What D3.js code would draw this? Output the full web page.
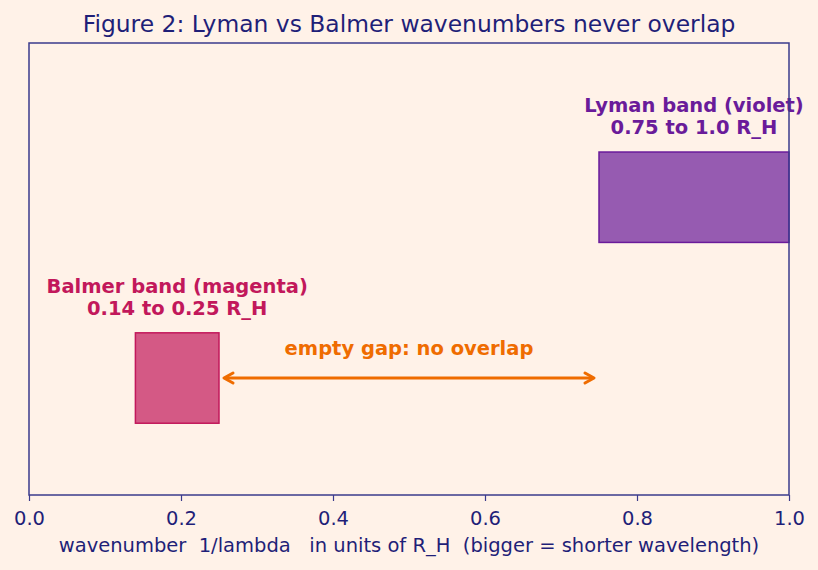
<!DOCTYPE html>
<html>
<head>
<meta charset="utf-8">
<script src="https://cdn.jsdelivr.net/npm/d3@7"></script>
<style>
  body { margin: 0; background: #fff2e8; }
  svg { display: block; font-family: "DejaVu Sans", sans-serif; }
</style>
</head>
<body>
<div id="chart"></div>
<script>
const width = 818,
  height = 570,
  margin = { top: 43, right: 29, bottom: 75, left: 29 },
  bg = "#fff2e8",
  ink = "#1f1f78",
  spine = "#3b3b8c",
  fontSize = 19.5;

// bands
const bandNames = ["Balmer", "Lyman"];
const bandStart = [0.14, 0.75];
const bandEnd = [0.25, 1.0];
const bandRow = [1, 2];
const bandColors = ["#c2185b", "#6a1b9a"];
const bandLabels = [
  ["Balmer band (magenta)", "0.14 to 0.25 R_H"],
  ["Lyman band (violet)", "0.75 to 1.0 R_H"],
];
const xTicks = [0, 0.2, 0.4, 0.6, 0.8, 1.0];
const gap = { from: 0.25, to: 0.75, row: 1, label: "empty gap: no overlap", labelRow: 1.16 };
const barHeight = 0.5;

const svg = d3
  .select("#chart")
  .append("svg")
  .attr("width", width)
  .attr("height", height);

svg.append("rect").attr("width", width).attr("height", height).attr("fill", bg);

const x = d3.scaleLinear().domain([0, 1]).range([margin.left, width - margin.right]);
const y = d3.scaleLinear().domain([0.353, 2.853]).range([height - margin.bottom, margin.top]);

const bands = bandNames.map((n, i) => ({
  name: n,
  start: bandStart[i],
  end: bandEnd[i],
  row: bandRow[i],
  color: bandColors[i],
  label: bandLabels[i],
}));

// bars
svg
  .append("g")
  .selectAll("rect")
  .data(bands)
  .join("rect")
  .attr("x", (d) => x(d.start))
  .attr("y", (d) => y(d.row + barHeight / 2))
  .attr("width", (d) => x(d.end) - x(d.start))
  .attr("height", (d) => y(d.row - barHeight / 2) - y(d.row + barHeight / 2))
  .attr("fill", (d) => d.color)
  .attr("fill-opacity", 0.7)
  .attr("stroke", (d) => d.color)
  .attr("stroke-width", 1.5);

// band labels
const lbl = svg
  .append("g")
  .selectAll("text")
  .data(bands)
  .join("text")
  .attr("text-anchor", "middle")
  .attr("font-size", fontSize)
  .attr("font-weight", "bold")
  .attr("fill", (d) => d.color)
  .attr("x", (d) => x((d.start + d.end) / 2))
  .attr("y", (d) => y(d.row + barHeight / 2) - 40);

lbl
  .selectAll("tspan")
  .data((d) => d.label.map((t) => ({ t, x: x((d.start + d.end) / 2) })))
  .join("tspan")
  .attr("x", (d) => d.x)
  .attr("dy", (d, i) => (i === 0 ? 0 : 22))
  .text((d) => d.t);

// gap arrow
const arrowColor = "#ef6c00";
const ay = y(gap.row);
const x0 = x(gap.from) + 5,
  x1 = x(gap.to) - 5;
const ag = svg.append("g").attr("stroke", arrowColor).attr("fill", "none").attr("stroke-width", 3);
ag.append("line").attr("x1", x0 + 1).attr("x2", x1 - 1).attr("y1", ay).attr("y2", ay);
ag.append("path")
  .attr("stroke-linejoin", "round")
  .attr("stroke-linecap", "round")
  .attr("d", `M${x0 + 9},${ay - 5}L${x0},${ay}L${x0 + 9},${ay + 5}`);
ag.append("path")
  .attr("stroke-linejoin", "round")
  .attr("stroke-linecap", "round")
  .attr("d", `M${x1 - 9},${ay - 5}L${x1},${ay}L${x1 - 9},${ay + 5}`);

svg
  .append("text")
  .attr("x", x((gap.from + gap.to) / 2))
  .attr("y", y(gap.labelRow) + 6)
  .attr("text-anchor", "middle")
  .attr("font-size", fontSize)
  .attr("font-weight", "bold")
  .attr("fill", arrowColor)
  .text(gap.label);

// frame
svg
  .append("rect")
  .attr("x", margin.left)
  .attr("y", margin.top)
  .attr("width", width - margin.left - margin.right)
  .attr("height", height - margin.top - margin.bottom)
  .attr("fill", "none")
  .attr("stroke", spine)
  .attr("stroke-width", 1.5);

// x axis
const xAxis = svg
  .append("g")
  .attr("transform", `translate(0,${height - margin.bottom})`)
  .call(d3.axisBottom(x).tickValues(xTicks).tickFormat(d3.format(".1f")).tickSizeOuter(0).tickSize(6));
xAxis.select(".domain").remove();
xAxis.selectAll(".tick line").attr("stroke", spine).attr("stroke-width", 1.2);
xAxis
  .selectAll(".tick text")
  .attr("fill", ink)
  .attr("font-size", fontSize)
  .attr("font-family", "DejaVu Sans, sans-serif")
  .attr("y", 30)
  .attr("dy", 0);

svg
  .append("text")
  .attr("x", x(0.5))
  .attr("y", 552)
  .attr("text-anchor", "middle")
  .attr("font-size", fontSize)
  .attr("fill", ink)
  .attr("xml:space", "preserve")
  .style("white-space", "pre")
  .text("wavenumber  1/lambda   in units of R_H  (bigger = shorter wavelength)");

// title
svg
  .append("text")
  .attr("x", width / 2)
  .attr("y", 32)
  .attr("text-anchor", "middle")
  .attr("font-size", 23.4)
  .attr("fill", ink)
  .text("Figure 2: Lyman vs Balmer wavenumbers never overlap");
</script>
</body>
</html>
